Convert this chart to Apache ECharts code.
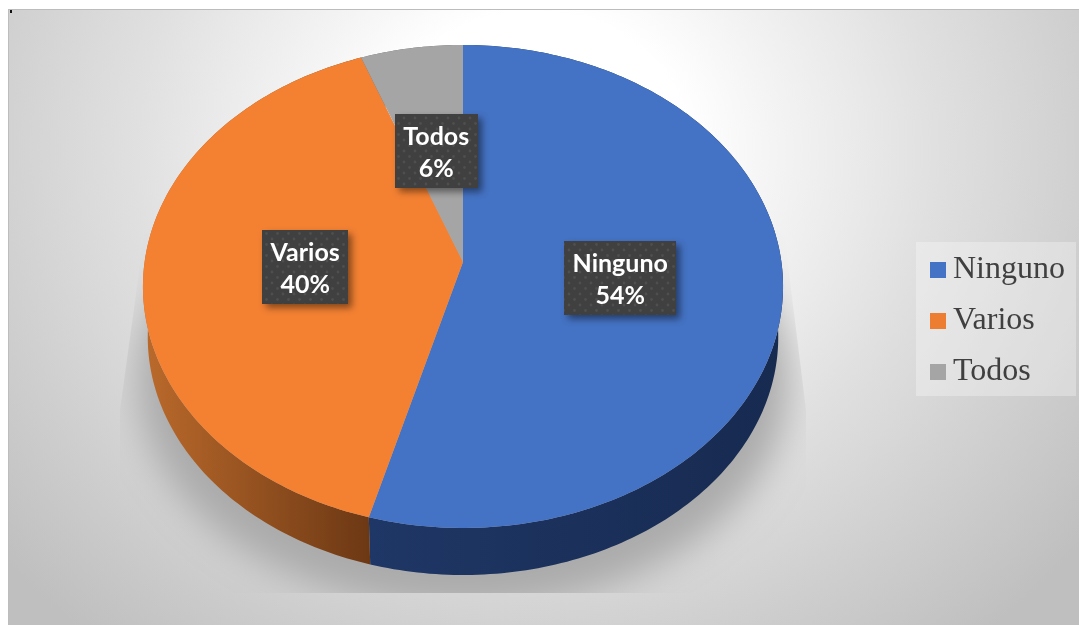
<!DOCTYPE html>
<html>
<head>
<meta charset="utf-8">
<title>Ninguno, Varios, Todos</title>
<style>
  html, body { margin: 0; padding: 0; background: #fff; }
  #chart { width: 1079px; height: 625px; }
</style>
<script src="https://cdn.jsdelivr.net/npm/echarts@6/dist/echarts.min.js"></script>
</head>
<body>
<div id="chart"></div>
<script>
const categories = ['Ninguno', 'Varios', 'Todos']
const values = [54.3, 40, 5.7]

const sliceColors = ['#4472c4', '#f48132', '#a5a5a5']
const legendColors = ['#4472c4', '#ed7d31', '#a5a5a5']
const wallStops = [
  ['#1f3766', '#172a50'],
  ['#bb6a2b', '#6c3814'],
  ['#6c6c6c', '#5a5a5a'],
]

// perspective of the disc: centre of the pie on screen, half axes, tilt
const PIE = { cx: 463, cy: 262, a: 318.4, b: 239, k: 0.1014 }
const WALL = { scale: 0.985, drop: 51 }
const LABEL_FONT = 'bold 25px Lato'

const total = values.reduce((sum, v) => sum + v, 0)

function project(angle, fraction, isBottom) {
  const rad = (angle * Math.PI) / 180
  const u = fraction * Math.sin(rad)
  const v = fraction * Math.cos(rad)
  const w = 1 + PIE.k * v
  const dx = (PIE.a * u) / w
  const dy = (-PIE.b * v) / w
  if (isBottom) {
    return [PIE.cx + dx * WALL.scale, PIE.cy + dy * WALL.scale + WALL.drop]
  }
  return [PIE.cx + dx, PIE.cy + dy]
}

function arc(start, end, isBottom) {
  const points = []
  const steps = Math.ceil(end - start)
  for (let i = 0; i <= steps; i++) {
    points.push(project(start + ((end - start) * i) / steps, 1, isBottom))
  }
  return points
}

function dotTile() {
  const tile = document.createElement('canvas')
  tile.width = 11
  tile.height = 11
  const ctx = tile.getContext('2d')
  ctx.fillStyle = '#404040'
  ctx.fillRect(0, 0, 11, 11)
  ctx.fillStyle = '#4f4f4f'
  ctx.beginPath()
  ctx.arc(2.5, 2.5, 1.4, 0, Math.PI * 2)
  ctx.arc(8, 8, 1.4, 0, Math.PI * 2)
  ctx.fill()
  return tile
}

const boxPattern = { image: dotTile(), repeat: 'repeat' }
const measureCtx = document.createElement('canvas').getContext('2d')
measureCtx.font = LABEL_FONT

function renderSlice(index, value, start) {
  const end = start + (value / total) * 360
  const top = arc(start, end, false)
  const bottom = arc(start, end, true)
  const xs = top.concat(bottom).map((p) => p[0])
  const mid = project((start + end) / 2, 0.495, false)
  const name = categories[index]
  const boxWidth = measureCtx.measureText(name).width + 17
  const boxHeight = 74

  return {
    type: 'group',
    children: [
      {
        type: 'polygon',
        z2: 1,
        shape: { points: top.concat(bottom.slice().reverse()) },
        style: {
          fill: new echarts.graphic.LinearGradient(
            Math.min(...xs), 0, Math.max(...xs), 0,
            [
              { offset: 0, color: wallStops[index][0] },
              { offset: 1, color: wallStops[index][1] },
            ],
            true
          ),
        },
      },
      {
        type: 'polygon',
        z2: 2,
        shape: { points: [[PIE.cx, PIE.cy]].concat(top) },
        style: { fill: sliceColors[index] },
      },
      {
        type: 'rect',
        z2: 3,
        shape: {
          x: Math.round(mid[0] - boxWidth / 2),
          y: Math.round(mid[1] - boxHeight / 2),
          width: Math.round(boxWidth),
          height: boxHeight,
        },
        style: {
          fill: boxPattern,
          shadowColor: 'rgba(0,0,0,0.45)',
          shadowBlur: 7,
          shadowOffsetX: 4,
          shadowOffsetY: 4,
        },
      },
      {
        type: 'text',
        z2: 4,
        x: mid[0],
        y: mid[1] + 2,
        style: {
          text: name + '\n' + Math.round(value) + '%',
          fill: '#ffffff',
          font: LABEL_FONT,
          lineHeight: 32,
          align: 'center',
          verticalAlign: 'middle',
        },
      },
    ],
  }
}

// drop shadow: only the blur of a shape parked off canvas reaches the picture,
// the clip works on the painted pixels so it stays in screen coordinates
function renderShadow() {
  const away = 3000
  return {
    type: 'ellipse',
    shape: { cx: 463 - away, cy: 380, rx: 326, ry: 230 },
    style: {
      fill: '#ababab',
      shadowColor: '#ababab',
      shadowBlur: 36,
      shadowOffsetX: away,
    },
    clipPath: {
      type: 'polygon',
      shape: {
        points: [
          [160, 120], [120, 410], [120, 593],
          [806, 593], [806, 410], [770, 120],
        ],
      },
    },
  }
}

let running = 0
const starts = values.map((v) => {
  const start = running
  running += (v / total) * 360
  return start
})

const chart = echarts.init(document.getElementById('chart'), null, { renderer: 'canvas' })

chart.setOption({
  animation: false,
  graphic: [
    {
      type: 'rect',
      z: -10,
      silent: true,
      originX: 535,
      originY: 150,
      scaleY: 0.9,
      shape: { x: 8, y: -5.6, width: 1071, height: 683.4 },
      style: {
        fill: {
          type: 'radial',
          x: 535,
          y: 150,
          r: 700,
          global: true,
          colorStops: [
            { offset: 0, color: '#ffffff' },
            { offset: 0.22, color: '#ffffff' },
            { offset: 0.34, color: '#f4f4f4' },
            { offset: 0.47, color: '#e9e9e9' },
            { offset: 0.57, color: '#e0e0e0' },
            { offset: 0.65, color: '#dadada' },
            { offset: 0.79, color: '#cfcfcf' },
            { offset: 1, color: '#bfbfbf' },
          ],
        },
      },
    },
    {
      type: 'rect',
      z: -9,
      silent: true,
      shape: { x: 8, y: 9, width: 1071, height: 1 },
      style: { fill: '#bcbcbc' },
    },
    {
      type: 'rect',
      z: -9,
      silent: true,
      shape: { x: 8, y: 10, width: 1, height: 615 },
      style: { fill: '#bdbdbd' },
    },
    {
      type: 'rect',
      z: -9,
      silent: true,
      shape: { x: 10, y: 10, width: 2, height: 3 },
      style: { fill: '#111111' },
    },
  ],
  legend: {
    data: categories,
    orient: 'vertical',
    left: 916,
    top: 242,
    padding: [10, 11, 6, 14],
    icon: 'rect',
    itemWidth: 16,
    itemHeight: 16,
    itemGap: 15,
    backgroundColor: 'rgba(255,255,255,0.3)',
    selectedMode: false,
    textStyle: {
      color: '#404040',
      fontFamily: 'Liberation Serif',
      fontSize: 32,
      lineHeight: 36,
      padding: [0, 0, 0, 2],
    },
  },
  series: [
    {
      type: 'custom',
      name: 'sombra',
      coordinateSystem: 'none',
      silent: true,
      z: 1,
      data: [[0]],
      renderItem: renderShadow,
    },
  ].concat(
    categories.map((name, i) => ({
      type: 'custom',
      name,
      coordinateSystem: 'none',
      silent: true,
      z: 2,
      itemStyle: { color: legendColors[i] },
      data: [[values[i]]],
      renderItem: (params, api) => renderSlice(i, api.value(0), starts[i]),
    }))
  ),
})
</script>
</body>
</html>
